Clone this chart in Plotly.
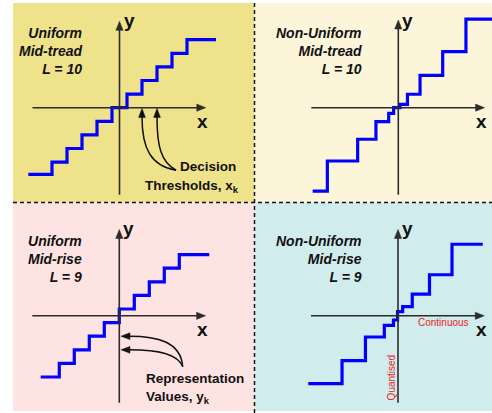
import plotly.graph_objects as go

W, H = 492, 413

# ---- staircase data: decision thresholds (x_k) and representation levels (y_k) ----
# Uniform mid-tread, L = 10
ut_x_start, ut_x_end = -6.08, 6.43
ut_thresholds = [-4.5, -3.5, -2.5, -1.5, -0.5, 0.5, 1.5, 2.5, 3.5, 4.5]
ut_levels = [-4.9, -4, -3, -2, -1, 0, 1, 2, 3, 4, 5]

# Non-uniform mid-tread, L = 10
nt_x_start, nt_x_end = -5.71, 6.8
nt_thresholds = [-4.73, -2.71, -1.49, -0.64, -0.31, 0.11, 0.61, 1.45, 2.96, 4.51]
nt_levels = [-6.13, -3.92, -2.32, -1.03, -0.41, 0, 0.25, 0.99, 2.38, 4.12, 6.52]

# Uniform mid-rise, L = 9
ur_x_start, ur_x_end = -5.24, 6.0
ur_thresholds = [-4, -3, -2, -1, 0, 1, 2, 3, 4]
ur_levels = [-4.5, -3.5, -2.5, -1.5, -0.5, 0.5, 1.5, 2.5, 3.5, 4.5]

# Non-uniform mid-rise, L = 9
nr_x_start, nr_x_end = -5.98, 5.65
nr_thresholds = [-3.73, -2.17, -0.91, -0.3, -0.03, 0.31, 0.95, 2.1, 3.6]
nr_levels = [-4.99, -3.3, -1.56, -0.71, -0.31, 0.30, 0.68, 1.60, 3.02, 5.26]

titles = [
    "Uniform<br>Mid-tread<br>L = 10",
    "Non-Uniform<br>Mid-tread<br>L = 10",
    "Uniform<br>Mid-rise<br>L = 9",
    "Non-Uniform<br>Mid-rise<br>L = 9",
]

# ---- layout helpers (pixel -> paper fraction) ----
SX, SY = 15.0, 13.6  # pixels per data unit


def fx(px):
    return px / W


def fy(py):
    return 1 - py / H


def head(tx, ty, direction, xa, ya, length=9.0, half=3.6, color="#2b2b2b"):
    """Filled triangular arrow head (data coords) with its tip at (tx, ty)."""
    if direction == "right":
        bx, p1, p2 = tx - length / SX, (tx - length / SX, ty + half / SY), (tx - length / SX, ty - half / SY)
    elif direction == "left":
        bx, p1, p2 = tx + length / SX, (tx + length / SX, ty + half / SY), (tx + length / SX, ty - half / SY)
    elif direction == "up":
        p1, p2 = (tx - half / SX, ty - length / SY), (tx + half / SX, ty - length / SY)
    path = f"M {tx},{ty} L {p1[0]},{p1[1]} L {p2[0]},{p2[1]} Z"
    return dict(type="path", xref=xa, yref=ya, path=path,
                fillcolor=color, line=dict(color=color, width=0.5))


FONT = "Liberation Sans, Arial, Helvetica, sans-serif"
AXIS_COLOR = "#2b2b2b"

# quadrant boxes (x0, y0, x1, y1) and the pixel position of each origin
panels = [
    dict(box=(13, 3, 254.5, 202.5), origin=(119.5, 107.7), bg="#EEE28B",
         start=ut_x_start, end=ut_x_end, thr=ut_thresholds, lev=ut_levels),
    dict(box=(254.5, 3, 492, 202.5), origin=(398.3, 107.7), bg="#FCF5DA",
         start=nt_x_start, end=nt_x_end, thr=nt_thresholds, lev=nt_levels),
    dict(box=(13, 202.5, 254.5, 411), origin=(119.3, 315.8), bg="#FDE3E1",
         start=ur_x_start, end=ur_x_end, thr=ur_thresholds, lev=ur_levels),
    dict(box=(254.5, 202.5, 492, 411), origin=(398.0, 315.8), bg="#D0ECEC",
         start=nr_x_start, end=nr_x_end, thr=nr_thresholds, lev=nr_levels),
]

fig = go.Figure()
shapes = []
annotations = []
layout_axes = {}

for i, p in enumerate(panels, start=1):
    x0, y0, x1, y1 = p["box"]
    ox, oy = p["origin"]
    xa = "x" if i == 1 else f"x{i}"
    ya = "y" if i == 1 else f"y{i}"
    layout_axes["xaxis" if i == 1 else f"xaxis{i}"] = dict(
        domain=[fx(x0), fx(x1)], range=[(x0 - ox) / SX, (x1 - ox) / SX],
        visible=False, fixedrange=True, anchor=ya)
    layout_axes["yaxis" if i == 1 else f"yaxis{i}"] = dict(
        domain=[fy(y1), fy(y0)], range=[(oy - y1) / SY, (oy - y0) / SY],
        visible=False, fixedrange=True, anchor=xa)

    # background tint
    shapes.append(dict(type="rect", xref="paper", yref="paper",
                       x0=fx(x0), x1=fx(x1), y0=fy(y1), y1=fy(y0),
                       fillcolor=p["bg"], line=dict(width=0), layer="below"))

    # quantiser staircase
    xs = [p["start"]] + list(p["thr"]) + [p["end"]]
    ys = list(p["lev"]) + [p["lev"][-1]]
    fig.add_trace(go.Scatter(x=xs, y=ys, mode="lines", line_shape="hv",
                             line=dict(color="#0000FF", width=3.2),
                             xaxis=xa, yaxis=ya, hoverinfo="skip",
                             showlegend=False))

    # x and y axes with arrow heads
    xtip = 5.75
    ytip = 6.45 if i == 2 else 6.35
    shapes.append(dict(type="line", xref=xa, yref=ya, x0=-5.8, x1=xtip - 4 / SX,
                       y0=0, y1=0, line=dict(color=AXIS_COLOR, width=1.6)))
    shapes.append(dict(type="line", xref=xa, yref=ya, x0=0, x1=0,
                       y0=-6.4, y1=ytip - 4 / SY, line=dict(color=AXIS_COLOR, width=1.6)))
    shapes.append(head(xtip, 0, "right", xa, ya))
    shapes.append(head(0, ytip, "up", xa, ya))

    # axis letters
    annotations.append(dict(x=fx(ox + 9.6), y=fy(oy - 87), xref="paper", yref="paper",
                            text="<b>y</b>", showarrow=False, xanchor="center",
                            yanchor="middle", font=dict(family=FONT, size=19, color="#111")))
    annotations.append(dict(x=fx(ox + 83), y=fy(oy + 13.5), xref="paper", yref="paper",
                            text="<b>x</b>", showarrow=False, xanchor="center",
                            yanchor="middle", font=dict(family=FONT, size=19, color="#111")))

    # panel title
    tx = 84 if i in (1, 3) else 363.5
    annotations.append(dict(x=fx(tx), y=fy(oy - 56.5), xref="paper", yref="paper",
                            text=f"<b><i>{titles[i - 1]}</i></b>", showarrow=False,
                            xanchor="right", yanchor="middle", align="right",
                            font=dict(family=FONT, size=14, color="#111")))

# dashed quadrant dividers
shapes.append(dict(type="line", xref="paper", yref="paper",
                   x0=fx(13), x1=fx(492), y0=fy(202.5), y1=fy(202.5),
                   line=dict(color="#111", width=1.5, dash="4px,3px")))
shapes.append(dict(type="line", xref="paper", yref="paper",
                   x0=fx(254.5), x1=fx(254.5), y0=fy(3), y1=fy(413),
                   line=dict(color="#111", width=1.5, dash="4px,3px")))

# pointers to two decision thresholds (uniform mid-tread panel)
tip_y = -0.05
for t, c1, c2 in [(ut_thresholds[6], (ut_thresholds[6], -3.0), (ut_thresholds[6] + 0.6, -4.3)),
                  (ut_thresholds[7], (ut_thresholds[7], -2.8), (ut_thresholds[7] + 0.25, -4.0))]:
    shapes.append(head(t, tip_y, "up", "x", "y", length=9, half=3.4, color="#111"))
    base = tip_y - 8.5 / SY
    shapes.append(dict(type="path", xref="x", yref="y",
                       path=f"M {t},{base} C {c1[0]},{c1[1]} {c2[0]},{c2[1]} 3.77,-4.6",
                       line=dict(color="#111", width=1.5)))

# pointers to two representation values (uniform mid-rise panel)
tip_x = 0.11
for lv, c1, c2 in [(ur_levels[3], (2.5, ur_levels[3]), (4.1, -1.9)),
                   (ur_levels[2], (2.6, ur_levels[2]), (3.9, -2.8))]:
    shapes.append(head(tip_x, lv, "left", "x3", "y3", length=9, half=3.4, color="#111"))
    base = tip_x + 8.5 / SX
    shapes.append(dict(type="path", xref="x3", yref="y3",
                       path=f"M {base},{lv} C {c1[0]},{c1[1]} {c2[0]},{c2[1]} 4.23,-3.74",
                       line=dict(color="#111", width=1.5)))

# explanatory labels
lab_font = dict(family=FONT, size=13.5, color="#111")
annotations += [
    dict(x=fx(238), y=fy(166), xref="paper", yref="paper", text="<b>Decision</b>",
         showarrow=False, xanchor="right", yanchor="middle", font=lab_font),
    dict(x=fx(241), y=fy(186), xref="paper", yref="paper",
         text="<b>Thresholds, x<sub>k</sub></b>",
         showarrow=False, xanchor="right", yanchor="middle", font=lab_font),
    dict(x=fx(144), y=fy(378.5), xref="paper", yref="paper", text="<b>Representation</b>",
         showarrow=False, xanchor="left", yanchor="middle", font=lab_font),
    dict(x=fx(144), y=fy(397.5), xref="paper", yref="paper",
         text="<b>Values, y<sub>k</sub></b>",
         showarrow=False, xanchor="left", yanchor="middle", font=lab_font),
    dict(x=fx(416), y=fy(322.5), xref="paper", yref="paper", text="Continuous",
         showarrow=False, xanchor="left", yanchor="middle",
         font=dict(family=FONT, size=10, color="#EE1C25")),
    dict(x=fx(391.7), y=fy(377.7), xref="paper", yref="paper", text="Quantised",
         showarrow=False, xanchor="center", yanchor="middle", textangle=-90,
         font=dict(family=FONT, size=10, color="#EE1C25")),
]

fig.update_layout(
    width=W, height=H, margin=dict(l=0, r=0, t=0, b=0),
    paper_bgcolor="white", plot_bgcolor="rgba(0,0,0,0)",
    shapes=shapes, annotations=annotations, showlegend=False,
    **layout_axes,
)

fig.write_html("out.html", config=dict(displayModeBar=False))
